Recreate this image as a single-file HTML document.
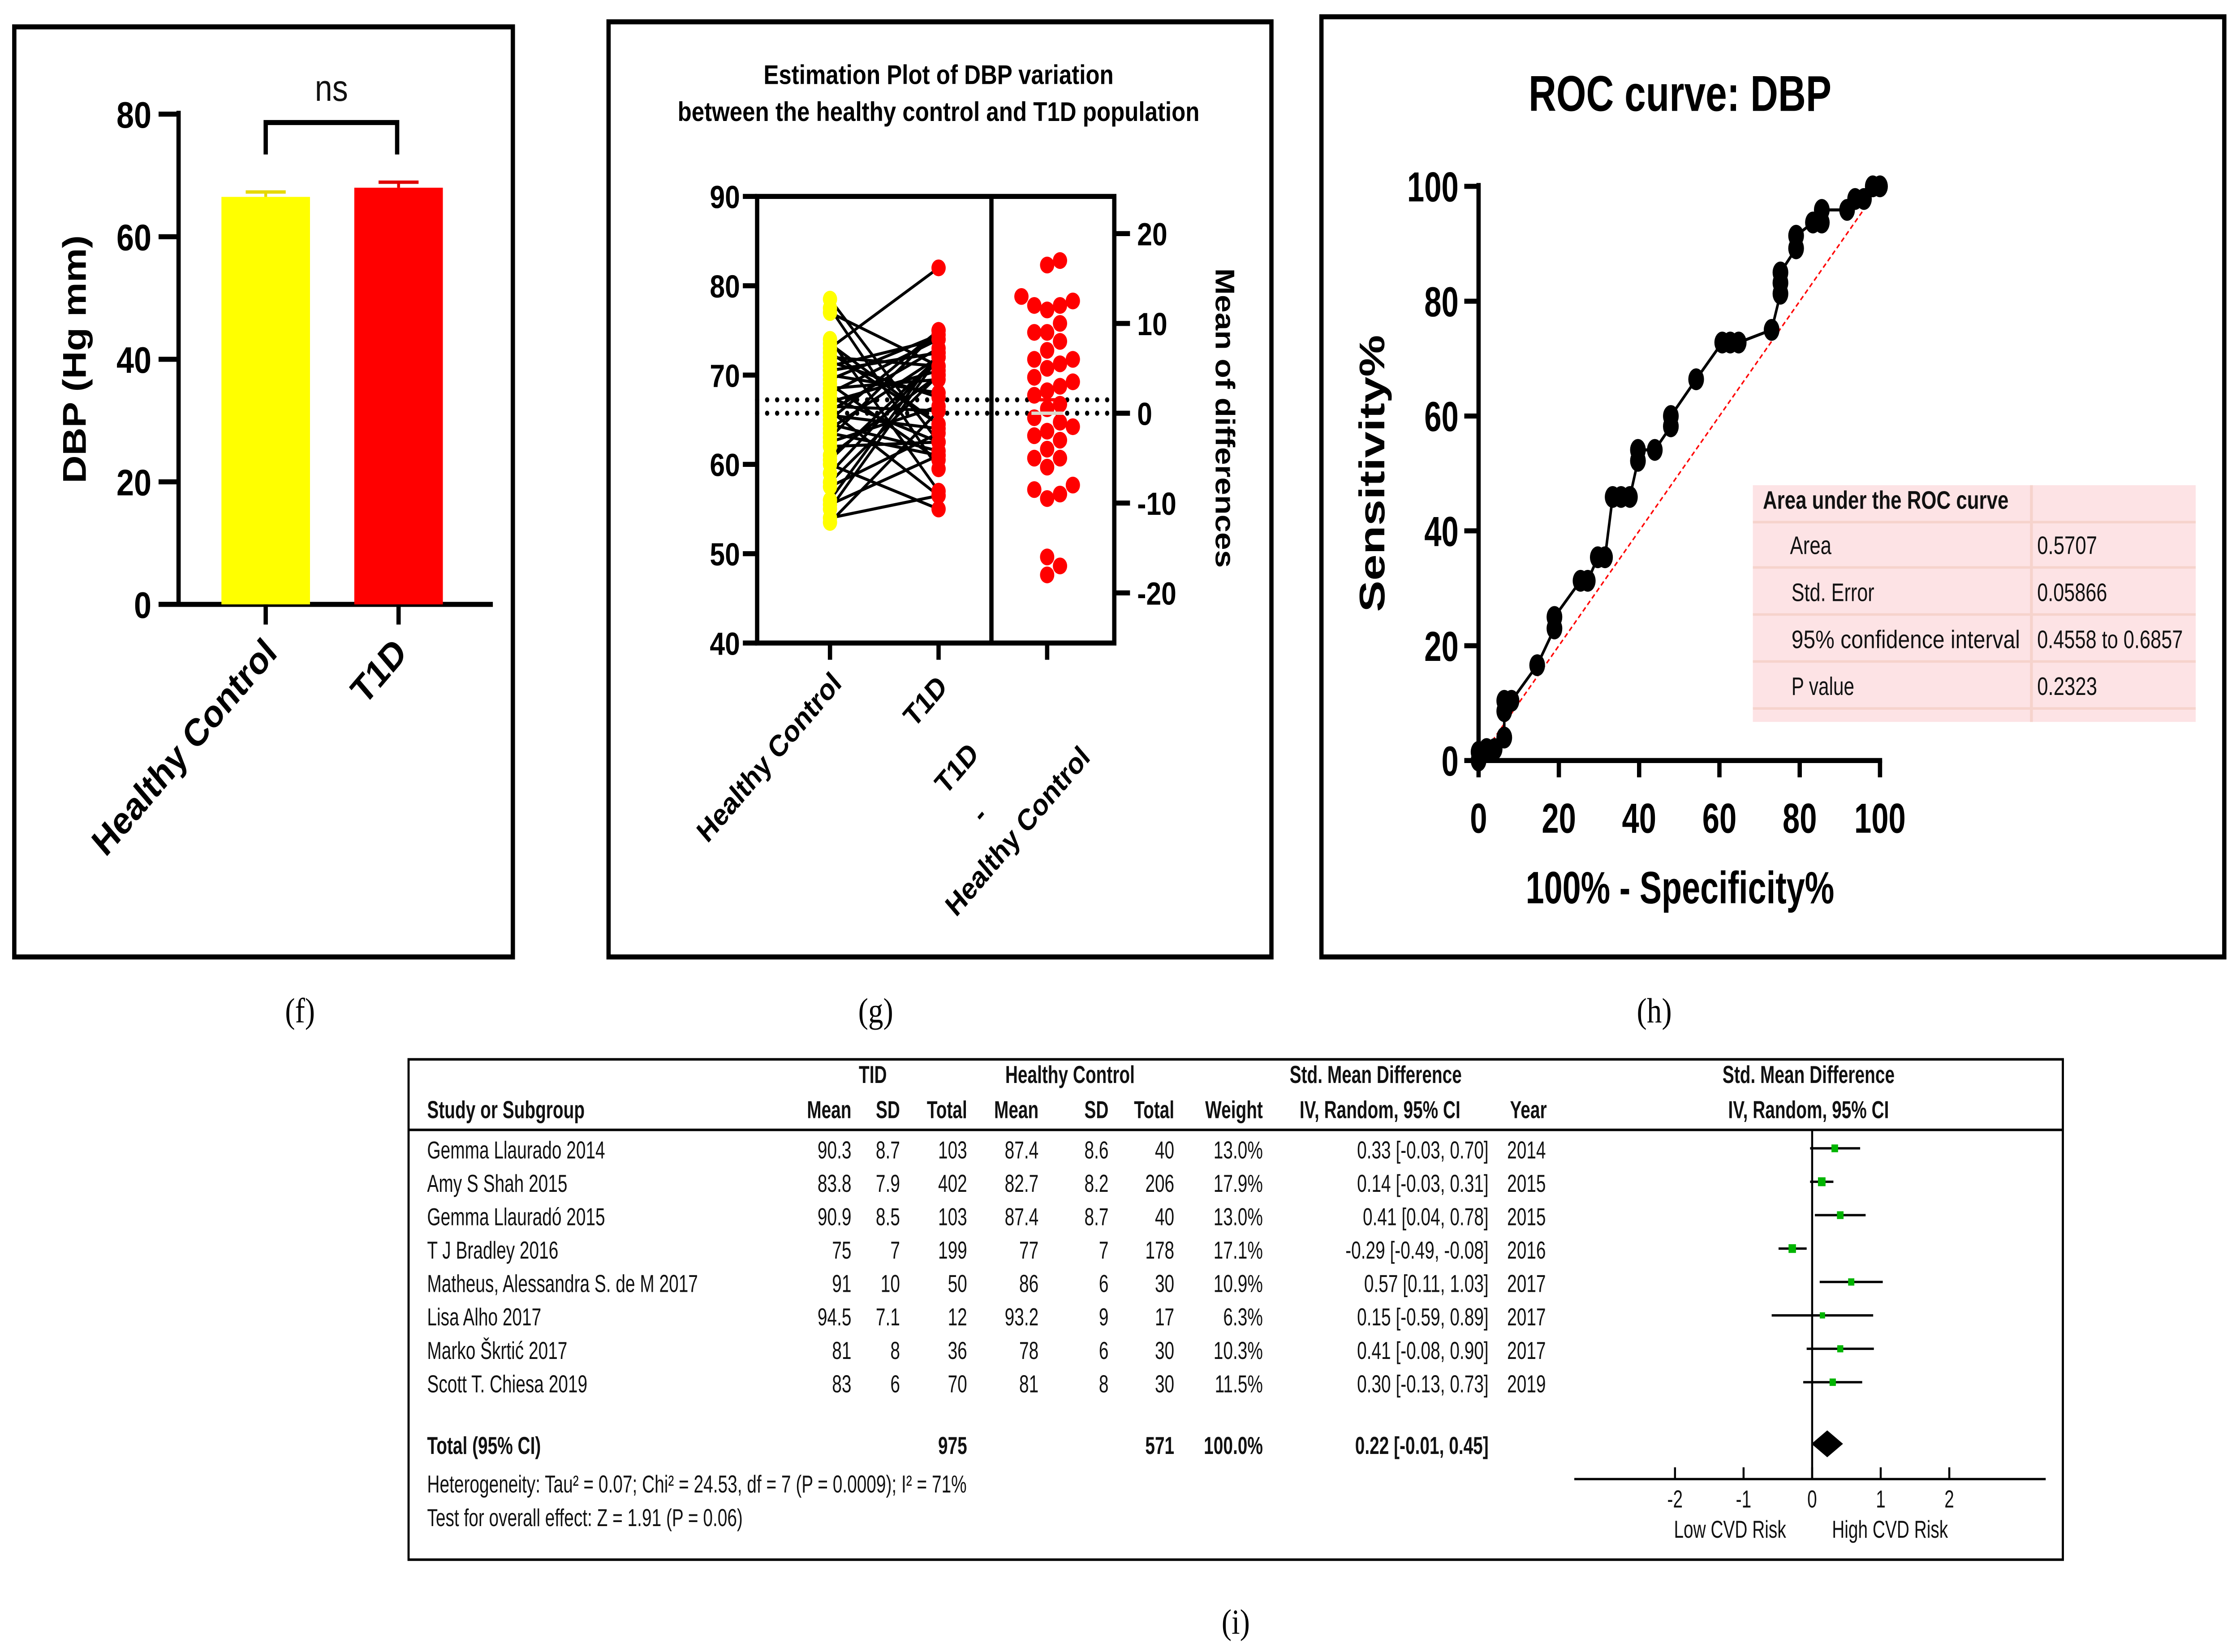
<!DOCTYPE html>
<html><head><meta charset="utf-8">
<style>
html,body{margin:0;padding:0;background:#fff;width:100%;height:100%;overflow:hidden;}
svg{display:block;width:100vw;height:100vh;}
.b{font-family:"Liberation Sans",Arial,sans-serif;font-weight:bold;fill:#000;}
.n{font-family:"Liberation Sans",Arial,sans-serif;fill:#111;}
.s{font-family:"Liberation Serif",serif;fill:#000;}
</style></head>
<body>
<svg id="fig" viewBox="0 0 1568 984" preserveAspectRatio="none" xmlns="http://www.w3.org/2000/svg">
<rect x="0" y="0" width="1568" height="984" fill="#fff"/>
<!-- Panel f -->
<g id="pf">
<rect x="10" y="16" width="349" height="554" fill="none" stroke="#000" stroke-width="3"/>
<text class="b" x="0" y="0" font-size="23" text-anchor="middle" transform="translate(60,214) rotate(-90)">DBP (Hg mm)</text>
<text class="b" x="195" y="390" font-size="23" text-anchor="end" transform="rotate(-45,195,390)">Healthy Control</text>
<text class="b" x="286" y="390" font-size="23" text-anchor="end" transform="rotate(-45,286,390)">T1D</text>
<path d="M186,92 V73 H278 V92" fill="none" stroke="#000" stroke-width="3"/>
<text class="n" x="232" y="60" font-size="22" text-anchor="middle">ns</text>
</g>
<!-- Panel g -->
<g id="pg">
<rect x="426" y="13" width="464" height="557" fill="none" stroke="#000" stroke-width="3"/>
<text class="b" x="657" y="50" font-size="16" text-anchor="middle">Estimation Plot of DBP variation</text>
<text class="b" x="657" y="72" font-size="16" text-anchor="middle">between the healthy control and T1D population</text>
<text class="b" x="0" y="0" font-size="19" text-anchor="middle" transform="translate(851,249) rotate(90)">Mean of differences</text>
<text class="b" x="590" y="408" font-size="18" text-anchor="end" transform="rotate(-45,590,408)">Healthy Control</text>
<text class="b" x="664" y="410" font-size="18" text-anchor="end" transform="rotate(-45,664,410)">T1D</text>
<text class="b" x="686" y="450" font-size="18" text-anchor="end" transform="rotate(-45,686,450)">T1D</text>
<text class="b" x="692" y="487" font-size="18" text-anchor="end" transform="rotate(-45,692,487)">-</text>
<text class="b" x="764" y="452" font-size="18" text-anchor="end" transform="rotate(-45,764,452)">Healthy Control</text>
</g>
<!-- Panel h -->
<g id="ph">
<rect x="925" y="10" width="632" height="560" fill="none" stroke="#000" stroke-width="3"/>
<text class="b" x="1176" y="66" font-size="30" text-anchor="middle" textLength="212" lengthAdjust="spacingAndGlyphs">ROC curve: DBP</text>
<text class="b" x="0" y="0" font-size="25" text-anchor="middle" textLength="165" lengthAdjust="spacingAndGlyphs" transform="translate(969,282) rotate(-90)">Sensitivity%</text>
<text class="b" x="1176" y="538" font-size="27" text-anchor="middle" textLength="216" lengthAdjust="spacingAndGlyphs">100% - Specificity%</text>
</g>
<g id="auc">
<rect x="1227" y="289" width="310" height="141" fill="#fde3e5"/>
<line x1="1422" y1="289" x2="1422" y2="430" stroke="#f6d3cc" stroke-width="2"/>
<line x1="1227" y1="311" x2="1537" y2="311" stroke="#f6d3cc" stroke-width="1.5"/>
<line x1="1227" y1="338" x2="1537" y2="338" stroke="#f6d3cc" stroke-width="1.5"/>
<line x1="1227" y1="366" x2="1537" y2="366" stroke="#f6d3cc" stroke-width="1.5"/>
<line x1="1227" y1="394" x2="1537" y2="394" stroke="#f6d3cc" stroke-width="1.5"/>
<line x1="1227" y1="422" x2="1537" y2="422" stroke="#f6d3cc" stroke-width="1.5"/>
<text class="n" x="1234" y="303" font-size="15" font-weight="bold" textLength="172" lengthAdjust="spacingAndGlyphs">Area under the ROC curve</text>
<text class="n" x="1253" y="330" font-size="15" textLength="29" lengthAdjust="spacingAndGlyphs">Area</text>
<text class="n" x="1426" y="330" font-size="15" textLength="42" lengthAdjust="spacingAndGlyphs">0.5707</text>
<text class="n" x="1254" y="358" font-size="15" textLength="58" lengthAdjust="spacingAndGlyphs">Std. Error</text>
<text class="n" x="1426" y="358" font-size="15" textLength="49" lengthAdjust="spacingAndGlyphs">0.05866</text>
<text class="n" x="1254" y="386" font-size="15" textLength="160" lengthAdjust="spacingAndGlyphs">95% confidence interval</text>
<text class="n" x="1426" y="386" font-size="15" textLength="102" lengthAdjust="spacingAndGlyphs">0.4558 to 0.6857</text>
<text class="n" x="1254" y="414" font-size="15" textLength="44" lengthAdjust="spacingAndGlyphs">P value</text>
<text class="n" x="1426" y="414" font-size="15" textLength="42" lengthAdjust="spacingAndGlyphs">0.2323</text>
</g>
<!-- Panel labels -->
<text class="s" x="210" y="609" font-size="21" text-anchor="middle">(f)</text>
<text class="s" x="613" y="609" font-size="21" text-anchor="middle">(g)</text>
<text class="s" x="1158" y="609" font-size="21" text-anchor="middle">(h)</text>
<text class="s" x="865" y="973" font-size="21" text-anchor="middle">(i)</text>
<!-- Panel i -->
<g id="pi">
<rect x="286" y="631" width="1158" height="298" fill="none" stroke="#000" stroke-width="1.5"/>
<line x1="286" y1="673" x2="1444" y2="673" stroke="#000" stroke-width="1.5"/>
</g>
</svg>
<script>
// ---------- DATA ----------
var barCategories = ["Healthy Control", "T1D"];
var barValues = [66.5, 68.0];
var barErrors = [0.8, 0.9];
var barTicks = [0, 20, 40, 60, 80];

var hcValues = [78.5,77.5,77,74,73.5,73,72.5,72,71.5,71,70.5,70,69.5,69,68.5,68,67.5,67,66.5,66,65.5,65,64.5,64,63.5,63,62.5,62,61,60.5,60,59,58,57.5,56,55.5,55,54,53.5,66];
var t1dValues = [62.5,59.5,71,57,64.5,82,64.5,71,67.5,74,72.5,68,74.5,60.5,69.5,74,62.5,70.5,66,73,64,75,61.5,72,61,75,66.5,62.5,70,72,55,72,70,63.5,72.5,61,72,56.5,66,56.5];
var leftTicks = [40,50,60,70,80,90];
var rightTicks = [-20,-10,0,10,20];

var rocX = [0,0,2,4,6.4,6.4,6.4,8.2,14.6,18.9,18.9,25.4,27.2,29.7,31.5,33.4,35.5,37.7,39.7,39.7,43.9,47.9,47.9,54.2,60.7,62.7,64.8,73,75.2,75.2,75.2,79.1,79.1,83.3,85.5,85.5,91.8,93.8,96,98.2,100];
var rocY = [0,1.5,2,2,4,8.6,10.4,10.4,16.6,23,25,31.3,31.3,35.4,35.4,45.9,45.9,45.9,52.2,54.1,54.1,58.2,60,66.4,72.8,72.8,72.8,75,81.3,83.2,85,89.2,91.4,93.7,93.7,95.9,95.9,97.8,97.8,100,100];
var rocTicks = [0,20,40,60,80,100];

var studies = ["Gemma Llaurado 2014","Amy S Shah 2015","Gemma Llauradó 2015","T J Bradley 2016","Matheus, Alessandra S. de M 2017","Lisa Alho 2017","Marko Škrtic\u0301 2017","Scott T. Chiesa 2019"];
var t1dMean = ["90.3","83.8","90.9","75","91","94.5","81","83"];
var t1dSD = ["8.7","7.9","8.5","7","10","7.1","8","6"];
var t1dN = ["103","402","103","199","50","12","36","70"];
var hcMean = ["87.4","82.7","87.4","77","86","93.2","78","81"];
var hcSD = ["8.6","8.2","8.7","7","6","9","6","8"];
var hcN = ["40","206","40","178","30","17","30","30"];
var weights = [13.0,17.9,13.0,17.1,10.9,6.3,10.3,11.5];
var smd = [0.33,0.14,0.41,-0.29,0.57,0.15,0.41,0.30];
var ciLo = [-0.03,-0.03,0.04,-0.49,0.11,-0.59,-0.08,-0.13];
var ciHi = [0.70,0.31,0.78,-0.08,1.03,0.89,0.90,0.73];
var years = ["2014","2015","2015","2016","2017","2017","2017","2019"];
var totalSmd = 0.22, totalLo = -0.01, totalHi = 0.45;
var forestTicks = [-2,-1,0,1,2];

// ---------- HELPERS ----------
var NS = "http://www.w3.org/2000/svg";
function mk(parent, tag, attrs, txt) {
  var e = document.createElementNS(NS, tag);
  for (var k in attrs) e.setAttribute(k, attrs[k]);
  if (txt !== undefined) e.textContent = txt;
  parent.appendChild(e);
  return e;
}
var el;

// ---------- PANEL F ----------
var pf = document.getElementById('pf');
function yF(v) { return 360 - v * 3.65; }
el = mk(pf, 'line', {x1:125, y1:yF(80)-2, x2:125, y2:361.5, stroke:'#000','stroke-width':3});


el = mk(pf, 'line', {x1:111, y1:360, x2:345, y2:360, stroke:'#000','stroke-width':3});


barTicks.forEach(function (v) {
  el = mk(pf, 'line', {x1:111, y1:yF(v), x2:125, y2:yF(v), stroke:'#000','stroke-width':3});
  
  
  el = mk(pf, 'text', {x:106, y:yF(v)+8, 'font-size':22, 'text-anchor':'end', 'class':'b'}, String(v));
  
  
});
var barCx = [186, 279];
var barColors = ['#ffff00', '#ff0000'];
barValues.forEach(function (v, i) {
  el = mk(pf, 'rect', {x:barCx[i]-31, y:yF(v), width:62, height:yF(0)-yF(v), fill:barColors[i]});
  
  
  var ec = i === 0 ? '#e6d800' : '#e00000';
  el = mk(pf, 'path', {d:'M'+(barCx[i]-14)+','+yF(v+barErrors[i])+' H'+(barCx[i]+14)+' M'+barCx[i]+','+yF(v+barErrors[i])+' V'+yF(v), stroke:ec, 'stroke-width':2, fill:'none'});
  
  
  el = mk(pf, 'line', {x1:barCx[i], y1:360, x2:barCx[i], y2:372, stroke:'#000','stroke-width':3});
  
  
});

// ---------- PANEL G ----------
var pg = document.getElementById('pg');
function yG(v) { return 117 + (90 - v) * 5.32; }
function mean(a) { return a.reduce(function (s, x) { return s + x; }, 0) / a.length; }
var mHC = mean(hcValues), mT1 = mean(t1dValues);
var diffs = t1dValues.map(function (v, i) { return v - hcValues[i]; });
var y0D = yG(mHC);
function yD(d) { return y0D - d * 5.35; }
el = mk(pg, 'line', {x1:530, y1:yG(mT1), x2:780, y2:yG(mT1), stroke:'#000','stroke-width':3,'stroke-dasharray':'0 7','stroke-linecap':'round'});


el = mk(pg, 'line', {x1:530, y1:yG(mHC), x2:780, y2:yG(mHC), stroke:'#000','stroke-width':3,'stroke-dasharray':'0 7','stroke-linecap':'round'});


hcValues.forEach(function (v, i) {
  el = mk(pg, 'line', {x1:581, y1:yG(v), x2:657, y2:yG(t1dValues[i]), stroke:'#000','stroke-width':1.8});
  
  
});
hcValues.forEach(function (v) {
  el = mk(pg, 'circle', {cx:581, cy:yG(v), r:5, fill:'#ffff00'});
  
  
});
t1dValues.forEach(function (v) {
  el = mk(pg, 'circle', {cx:657, cy:yG(v), r:5, fill:'#ff0000'});
  
  
});
var sorted = diffs.map(function (d, i) { return [d, i]; }).sort(function (a, b) { return a[0] - b[0]; });
var placed = [];
sorted.forEach(function (p) {
  var cy = yD(p[0]);
  var offs = [0, 9, -9, 18, -18, 24, -24];
  var cx = 733;
  for (var k = 0; k < offs.length; k++) {
    var ok = placed.every(function (q) { return Math.hypot(q[0] - (733 + offs[k]), q[1] - cy) > 8.5; });
    if (ok) { cx = 733 + offs[k]; break; }
  }
  placed.push([cx, cy]);
  el = mk(pg, 'circle', {cx:cx, cy:cy, r:5, fill:'#ff0000'});
  
  
});
var mD = mean(diffs);
el = mk(pg, 'line', {x1:722, y1:yD(mD), x2:744, y2:yD(mD), stroke:'#ff0000','stroke-width':2});


el = mk(pg, 'line', {x1:722, y1:yD(0), x2:744, y2:yD(0), stroke:'#ddd8cc','stroke-width':2});


el = mk(pg, 'path', {d:'M530,117 H780 V383 H530 Z M694,117 V383', fill:'none', stroke:'#000','stroke-width':3});


leftTicks.forEach(function (v) {
  el = mk(pg, 'line', {x1:520, y1:yG(v), x2:530, y2:yG(v), stroke:'#000','stroke-width':3});
  
  
  el = mk(pg, 'text', {x:518, y:yG(v)+7, 'font-size':19, 'text-anchor':'end', 'class':'b'}, String(v));
  
  
});
rightTicks.forEach(function (v) {
  el = mk(pg, 'line', {x1:780, y1:yD(v), x2:791, y2:yD(v), stroke:'#000','stroke-width':3});
  
  
  el = mk(pg, 'text', {x:796, y:yD(v)+7, 'font-size':19, 'class':'b'}, String(v));
  
  
});
[581, 657, 733].forEach(function (x) {
  el = mk(pg, 'line', {x1:x, y1:383, x2:x, y2:393, stroke:'#000','stroke-width':3});
  
  
});

// ---------- PANEL H ----------
var ph = document.getElementById('ph');
function xR(v) { return 1035 + v * 2.81; }
function yR(v) { return 453 - v * 3.42; }
el = mk(ph, 'line', {x1:xR(0), y1:yR(0), x2:xR(100), y2:yR(100), stroke:'#ff0000','stroke-width':1,'stroke-dasharray':'3 2'});


el = mk(ph, 'path', {d:'M1035,'+(yR(100)-2)+' V453 H'+(xR(100)+1.5), fill:'none', stroke:'#000','stroke-width':3});


rocTicks.forEach(function (v) {
  el = mk(ph, 'line', {x1:1025, y1:yR(v), x2:1035, y2:yR(v), stroke:'#000','stroke-width':3});
  
  
  el = mk(ph, 'text', {x:1021, y:yR(v)+9, 'font-size':25, 'text-anchor':'end', 'class':'b', textLength: String(v).length*12, lengthAdjust:'spacingAndGlyphs'}, String(v));
  
  
  el = mk(ph, 'line', {x1:xR(v), y1:453, x2:xR(v), y2:463, stroke:'#000','stroke-width':3});
  
  
  el = mk(ph, 'text', {x:xR(v), y:496, 'font-size':25, 'text-anchor':'middle', 'class':'b', textLength: String(v).length*12, lengthAdjust:'spacingAndGlyphs'}, String(v));
  
  
});
var pts = rocX.map(function (x, i) { return xR(x) + ',' + yR(rocY[i]); }).join(' ');
el = mk(ph, 'polyline', {points:pts, fill:'none', stroke:'#000','stroke-width':1.8});


rocX.forEach(function (x, i) {
  el = mk(ph, 'ellipse', {cx:xR(x), cy:yR(rocY[i]), rx:5.5, ry:6.5, fill:'#000'});
  
  
});

// ---------- PANEL I ----------
var pi = document.getElementById('pi');
var SX = 0.84;
function ct(x, y, s, anchor, opts) {
  var a = {x:(x / SX).toFixed(2), y:y, 'font-size':14.5, 'text-anchor':anchor || 'start', 'class':'n', transform:'scale(' + SX + ',1)'};
  if (opts) for (var k in opts) a[k] = opts[k];
  return mk(pi, 'text', a, s);
}
var hdrs = [[611,645,'TID','middle'],[749,645,'Healthy Control','middle'],[963,645,'Std. Mean Difference','middle'],[1266,645,'Std. Mean Difference','middle'],
 [299,666,'Study or Subgroup','start'],[596,666,'Mean','end'],[630,666,'SD','end'],[677,666,'Total','end'],[727,666,'Mean','end'],[776,666,'SD','end'],[822,666,'Total','end'],[884,666,'Weight','end'],[966,666,'IV, Random, 95% CI','middle'],[1057,666,'Year','start'],[1266,666,'IV, Random, 95% CI','middle']];
hdrs.forEach(function (h) {
  el = ct(h[0], h[1], h[2], h[3], {'font-weight':'bold', fill:'#2a2a3a'});
  
  
});
function f2(v) { return (v < 0 ? '-' : '') + Math.abs(v).toFixed(2); }
function xF(v) { return 1268.5 + v * 48; }
studies.forEach(function (s, i) {
  var y = 690 + i * 19.9;
  var cells = [[299,s,'start'],[596,t1dMean[i],'end'],[630,t1dSD[i],'end'],[677,t1dN[i],'end'],[727,hcMean[i],'end'],[776,hcSD[i],'end'],[822,hcN[i],'end'],[884,weights[i].toFixed(1)+'%','end'],[1042,f2(smd[i])+' ['+f2(ciLo[i])+', '+f2(ciHi[i])+']','end'],[1055,years[i],'start']];
  cells.forEach(function (c) {
    el = ct(c[0], y, c[1], c[2]);
    
    
  });
  var cy = y - 6;
  el = mk(pi, 'line', {x1:xF(ciLo[i]), y1:cy, x2:xF(ciHi[i]), y2:cy, stroke:'#000','stroke-width':1.4});
  
  
  var sz = 2.8 + weights[i] * 0.14;
  el = mk(pi, 'rect', {x:xF(smd[i]) - sz/2, y:cy - sz/2, width:sz, height:sz, fill:'#00b400'});
  
  
});
var totalCells = [[299,'Total (95% CI)','start'],[677,'975','end'],[822,'571','end'],[884,'100.0%','end'],[1042,f2(totalSmd)+' ['+f2(totalLo)+', '+f2(totalHi)+']','end']];
totalCells.forEach(function (c) {
  el = ct(c[0], 866, c[1], c[2], {'font-weight':'bold', fill:'#2a2a3a'});
  
  
});
el = ct(299, 889, 'Heterogeneity: Tau\u00b2 = 0.07; Chi\u00b2 = 24.53, df = 7 (P = 0.0009); I\u00b2 = 71%', 'start');


el = ct(299, 909, 'Test for overall effect: Z = 1.91 (P = 0.06)', 'start');


el = mk(pi, 'line', {x1:xF(0), y1:673, x2:xF(0), y2:881, stroke:'#000','stroke-width':1.4});


el = mk(pi, 'polygon', {points:xF(totalLo)+',860 '+xF(totalSmd)+',852 '+xF(totalHi)+',860 '+xF(totalSmd)+',868', fill:'#000'});


el = mk(pi, 'line', {x1:1102, y1:881, x2:1432, y2:881, stroke:'#000','stroke-width':1.4});


forestTicks.forEach(function (v) {
  el = mk(pi, 'line', {x1:xF(v), y1:874, x2:xF(v), y2:881, stroke:'#000','stroke-width':1.4});
  
  
  el = ct(xF(v), 898, String(v), 'middle');
  
  
});
el = ct(1211, 916, 'Low CVD Risk', 'middle', {fill:'#333'});


el = ct(1323, 916, 'High CVD Risk', 'middle', {fill:'#333'});


</script>
</body></html>
